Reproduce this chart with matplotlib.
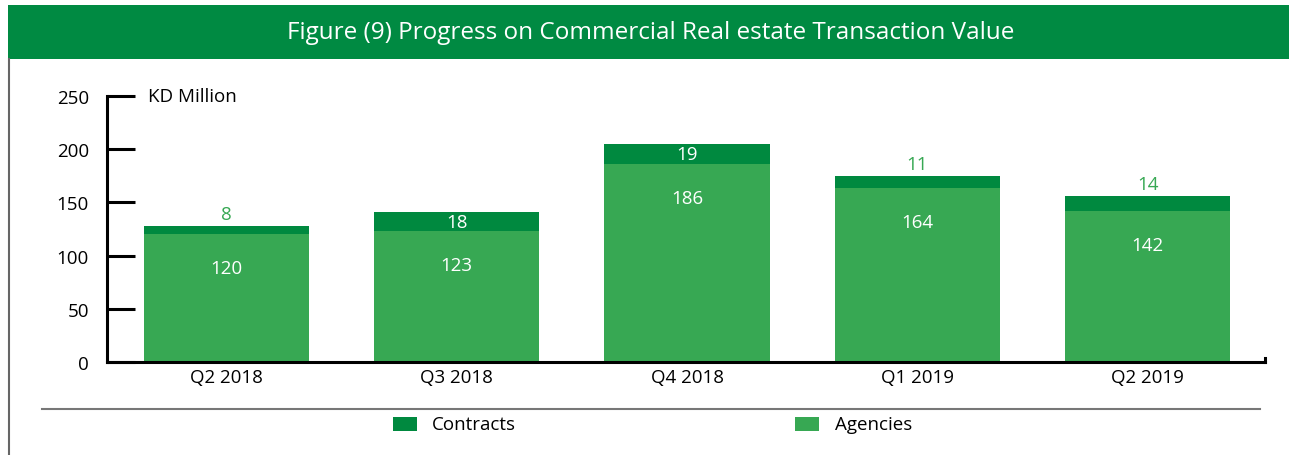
import matplotlib
matplotlib.use("Agg")
import matplotlib.pyplot as plt
from matplotlib.patches import Rectangle
from matplotlib.lines import Line2D

plt.rcParams['font.family'] = ['Open Sans', 'DejaVu Sans']

categories = ["Q2 2018", "Q3 2018", "Q4 2018", "Q1 2019", "Q2 2019"]
agencies = [120, 123, 186, 164, 142]
contracts = [8, 18, 19, 11, 14]
yticks = [0, 50, 100, 150, 200, 250]
title = "Figure (9) Progress on Commercial Real estate Transaction Value"
ylabel = "KD Million"

C_DARK = "#00893F"
C_LIGHT = "#37A853"
FS = 13.5

W, H = 1289, 456
fig = plt.figure(figsize=(W / 100, H / 100), dpi=100)

def fx(px):
    return px / W

def fy(py):
    return 1 - py / H

# Title bar
fig.patches.append(Rectangle((fx(8), fy(60)), 1 - fx(8), fy(6) - fy(60),
                             transform=fig.transFigure, facecolor="#008A42",
                             edgecolor="none", zorder=0))
fig.text(fx(651), fy(33), title, color="white", fontsize=17.5, ha="center",
         va="center")
# left border line
fig.lines.append(Line2D([fx(9), fx(9)], [0, fy(60)], transform=fig.transFigure,
                        color="#666666", lw=1.5))
# separator line
fig.lines.append(Line2D([fx(42), fx(1260)], [fy(410), fy(410)],
                        transform=fig.transFigure, color="#777777", lw=1.5))

ax = fig.add_axes([fx(107), fy(363), fx(1265) - fx(107), fy(97) - fy(363)])
x = list(range(len(categories)))
ax.bar(x, agencies, width=0.717, color=C_LIGHT, label="Agencies", zorder=2)
ax.bar(x, contracts, width=0.717, bottom=agencies, color=C_DARK,
       label="Contracts", zorder=2)
ax.set_xlim(-0.519, 4.51)
ax.set_ylim(0, 250)
ax.set_yticks(yticks)
ax.set_yticklabels([str(t) for t in yticks], fontsize=FS)
ax.set_xticks(x)
ax.set_xticklabels(categories, fontsize=FS)
ax.tick_params(axis='y', direction='in', length=20, width=2.2, pad=13)
ax.tick_params(axis='x', length=0, pad=4)
for s in ["top", "right"]:
    ax.spines[s].set_visible(False)
for s in ["left", "bottom"]:
    ax.spines[s].set_linewidth(2.2)
    ax.spines[s].set_color("black")
ax.spines["bottom"].set_zorder(3)
# small end tick at right of x axis
ax.plot([4.51, 4.51], [0, 4], color="black", lw=2.2, clip_on=False, zorder=3)

ax.text(0.035, 250, ylabel, transform=ax.get_yaxis_transform(), fontsize=FS,
        va="center", ha="left")

for i, (a, c) in enumerate(zip(agencies, contracts)):
    ax.text(i, a - 32, str(a), color="white", ha="center", va="center",
            fontsize=FS, zorder=4)
    if c >= 15:
        ax.text(i, a + c / 2, str(c), color="white", ha="center",
                va="center", fontsize=FS, zorder=4)
    else:
        ax.text(i, a + c + 11, str(c), color=C_LIGHT, ha="center",
                va="center", fontsize=FS, zorder=4)

# Legend
fig.patches.append(Rectangle((fx(393), fy(432)), fx(24), fy(418) - fy(432),
                             transform=fig.transFigure, facecolor=C_DARK))
fig.text(fx(432), fy(425), "Contracts", fontsize=FS, va="center", ha="left")
fig.patches.append(Rectangle((fx(795), fy(432)), fx(24), fy(418) - fy(432),
                             transform=fig.transFigure, facecolor=C_LIGHT))
fig.text(fx(835), fy(425), "Agencies", fontsize=FS, va="center", ha="left")

fig.savefig("out.png", dpi=100)
